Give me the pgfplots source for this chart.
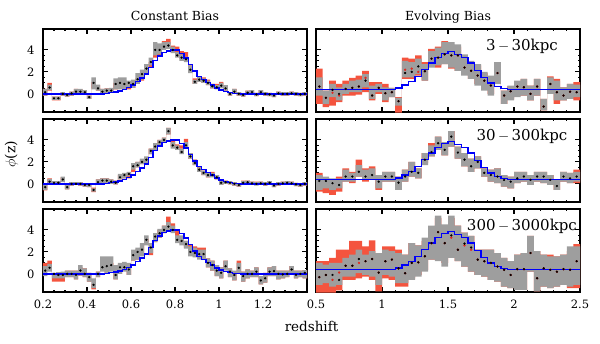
\documentclass[border=0pt]{standalone}
\usepackage{pgfplots}
\pgfplotsset{compat=1.18}
\usepackage{pgfplotstable}
\usepgfplotslibrary{groupplots,fillbetween}
\usepackage{fontspec}
\setmainfont{DejaVu Serif}
\definecolor{cGray}{RGB}{158,158,158}
\definecolor{cRed}{RGB}{244,84,62}
\definecolor{cRdot}{RGB}{225,40,30}
\definecolor{cBlue}{RGB}{0,0,250}

\pgfplotstableread{
x m
0.20 0
0.22 0
0.24 0
0.26 0
0.28 0
0.30 0
0.32 0
0.34 0
0.36 0
0.38 0
0.40 0
0.42 0
0.44 0
0.46 0
0.48 0.05
0.50 0.1
0.52 0.18
0.54 0.27
0.56 0.4
0.58 0.6
0.60 0.8
0.62 1.1
0.64 1.45
0.66 1.8
0.68 2.4
0.70 3.05
0.72 3.45
0.74 3.75
0.76 3.9
0.78 4.0
0.80 4.0
0.82 3.65
0.84 3.25
0.86 2.65
0.88 2.1
0.90 1.6
0.92 1.3
0.94 1.05
0.96 0.8
0.98 0.55
1.00 0.35
1.02 0.2
1.04 0.12
1.06 0.06
1.08 0.03
1.10 0
1.12 0
1.14 0
1.16 0
1.18 0
1.20 0
1.22 0
1.24 0
1.26 0
1.28 0
1.30 0
1.32 0
1.34 0
1.36 0
1.38 0
1.40 0
}\mL

\pgfplotstableread{
x m
0.50 0.4
0.55 0.4
0.60 0.4
0.65 0.4
0.70 0.4
0.75 0.4
0.80 0.4
0.85 0.4
0.90 0.4
0.95 0.4
1.00 0.4
1.05 0.4
1.10 0.55
1.15 0.8
1.20 1.15
1.25 1.6
1.30 2.2
1.35 2.8
1.40 3.3
1.45 3.65
1.50 3.85
1.55 3.6
1.60 3.3
1.65 2.8
1.70 2.15
1.75 1.5
1.80 1.0
1.85 0.65
1.90 0.5
1.95 0.4
2.00 0.4
2.05 0.4
2.10 0.4
2.15 0.4
2.20 0.4
2.25 0.4
2.30 0.4
2.35 0.4
2.40 0.4
2.45 0.4
2.50 0.4
}\mR

\pgfplotstableread{
x glo ghi rlo rhi d
0.20 -0.15 0.45 -0.15 0.45 0.15
0.22 0.35 0.85 0.3 1.0 0.58
0.24 -0.55 -0.25 -0.6 -0.25 -0.4
0.26 -0.55 -0.25 -0.6 -0.25 -0.4
0.28 -0.15 0.15 -0.15 0.15 0.0
0.30 -0.25 0.05 -0.25 0.05 -0.1
0.32 -0.15 0.2 -0.15 0.2 0.05
0.34 0.0 0.45 0.0 0.45 0.2
0.36 0.0 0.45 0.0 0.4 0.2
0.38 -0.05 0.35 -0.05 0.35 0.15
0.40 -0.45 -0.15 -0.45 -0.15 -0.3
0.42 0.4 1.5 0.5 1.1 1.0
0.44 0.3 0.85 0.3 0.8 0.5
0.46 0.0 0.45 0.0 0.45 0.2
0.48 0.1 0.5 0.1 0.5 0.3
0.50 0.1 0.55 0.1 0.5 0.3
0.52 0.4 1.4 0.4 1.0 0.9
0.54 0.4 1.5 0.45 1.1 1.0
0.56 0.4 1.5 0.4 1.0 0.9
0.58 0.6 1.2 0.4 0.9 1.0
0.60 0.55 1.3 0.55 1.0 0.9
0.62 0.9 1.9 0.9 1.4 1.33
0.64 1.3 2.2 1.2 1.8 1.8
0.66 1.9 2.7 1.9 2.3 2.3
0.68 2.6 3.3 2.4 2.9 2.9
0.70 3.5 4.7 3.3 3.8 4.0
0.72 3.6 4.6 3.4 3.9 4.0
0.74 4.0 4.7 4.1 4.8 4.3
0.76 4.1 4.7 4.5 5.0 4.4
0.78 3.7 4.3 3.8 4.4 4.0
0.80 3.3 3.8 3.6 4.3 3.5
0.82 3.0 3.6 3.2 3.9 3.3
0.84 2.9 3.4 3.0 3.8 3.15
0.86 1.9 2.6 2.1 2.6 2.2
0.88 0.9 1.3 0.9 1.4 1.1
0.90 1.1 1.6 1.1 1.6 1.3
0.92 1.0 1.4 1.0 1.5 1.2
0.94 0.8 1.2 0.8 1.3 1.0
0.96 0.5 0.9 0.5 0.9 0.7
0.98 0.4 0.8 0.5 0.9 0.6
1.00 0.5 1.0 0.6 1.1 0.75
1.02 0.3 0.8 0.3 0.8 0.5
1.04 -0.15 0.15 -0.15 0.15 0.0
1.06 0.0 0.45 0.1 0.45 0.2
1.08 -0.15 0.15 -0.15 0.15 0.0
1.10 -0.25 0.05 -0.25 0.05 -0.1
1.12 -0.05 0.3 -0.05 0.3 0.1
1.14 0.0 0.35 0.0 0.35 0.15
1.16 -0.2 0.1 -0.2 0.1 -0.05
1.18 0.0 0.35 0.0 0.35 0.15
1.20 -0.15 0.15 -0.15 0.15 0.0
1.22 -0.2 0.1 -0.2 0.1 -0.05
1.24 -0.3 0.0 -0.3 0.0 -0.15
1.26 -0.1 0.2 -0.1 0.2 0.05
1.28 -0.15 0.15 -0.15 0.15 0.0
1.30 -0.15 0.15 -0.15 0.15 0.0
1.32 -0.1 0.2 -0.1 0.2 0.05
1.34 -0.15 0.15 -0.15 0.15 0.0
1.36 -0.2 0.1 -0.2 0.1 -0.05
1.38 -0.15 0.15 -0.15 0.15 0.0
1.40 -0.15 0.15 -0.15 0.15 nan
}\tA

\pgfplotstableread{
x glo ghi rlo rhi d
0.20 -0.55 0.0 -0.6 -0.1 -0.3
0.22 0.0 0.45 0.1 0.5 0.2
0.24 -0.05 0.25 -0.05 0.25 0.1
0.26 -0.05 0.25 -0.05 0.25 0.1
0.28 0.15 0.65 0.2 0.6 0.4
0.30 -0.5 0.0 -0.5 0.0 -0.3
0.32 -0.15 0.15 -0.15 0.15 0.0
0.34 -0.1 0.15 -0.1 0.15 0.0
0.36 -0.15 0.15 -0.15 0.15 0.0
0.38 -0.25 0.05 -0.25 0.05 -0.1
0.40 -0.3 0.05 -0.3 0.05 -0.1
0.42 -0.7 -0.4 -0.75 -0.35 -0.55
0.44 0.0 0.4 0.0 0.4 0.15
0.46 0.1 0.5 0.1 0.5 0.3
0.48 0.1 0.5 0.1 0.5 0.3
0.50 0.0 0.4 0.0 0.4 0.2
0.52 -0.05 0.3 -0.05 0.3 0.1
0.54 0.4 0.9 0.4 0.8 0.6
0.56 0.5 1.0 0.5 0.9 0.8
0.58 0.7 1.1 0.5 0.8 0.9
0.60 1.3 1.9 1.1 1.4 1.6
0.62 1.5 2.0 1.5 2.0 1.7
0.64 1.8 2.3 1.8 2.2 2.0
0.66 1.9 2.5 1.8 2.1 2.2
0.68 2.7 3.2 2.7 3.2 3.0
0.70 3.1 3.7 3.1 3.6 3.4
0.72 3.5 4.0 3.5 4.0 3.8
0.74 3.8 4.2 3.8 4.2 4.0
0.76 4.5 5.1 4.5 5.1 4.8
0.78 3.2 3.8 3.4 4.0 3.5
0.80 3.1 3.5 3.3 3.6 3.3
0.82 2.7 3.2 3.2 3.5 2.9
0.84 3.3 3.8 3.7 4.1 3.5
0.86 2.3 2.8 2.3 2.8 2.5
0.88 1.7 2.2 1.7 2.2 1.9
0.90 1.1 1.5 1.3 1.6 1.3
0.92 0.8 1.2 0.8 1.2 1.0
0.94 0.6 1.0 0.6 1.0 0.8
0.96 0.6 1.0 0.7 1.1 0.8
0.98 0.4 0.8 0.4 0.8 0.6
1.00 -0.1 0.3 -0.1 0.3 0.1
1.02 0.0 0.3 0.0 0.3 0.15
1.04 -0.05 0.25 -0.05 0.25 0.1
1.06 -0.15 0.15 -0.15 0.15 0.0
1.08 -0.25 0.05 -0.25 0.05 -0.1
1.10 -0.05 0.25 -0.05 0.3 0.1
1.12 0.0 0.3 0.0 0.3 0.15
1.14 -0.1 0.2 -0.1 0.2 0.05
1.16 -0.15 0.15 -0.1 0.2 0.0
1.18 -0.1 0.2 -0.1 0.2 0.05
1.20 -0.15 0.15 -0.15 0.15 0.0
1.22 -0.05 0.25 -0.05 0.25 0.1
1.24 -0.3 0.0 -0.3 0.0 -0.15
1.26 -0.15 0.15 -0.15 0.15 0.0
1.28 -0.1 0.2 -0.1 0.2 0.05
1.30 -0.05 0.25 -0.05 0.25 0.1
1.32 -0.1 0.2 -0.1 0.2 0.05
1.34 -0.2 0.1 -0.2 0.1 -0.05
1.36 -0.25 0.05 -0.25 0.05 -0.1
1.38 -0.15 0.15 -0.15 0.15 0.0
1.40 -0.15 0.15 -0.15 0.15 nan
}\tB

\pgfplotstableread{
x glo ghi rlo rhi d
0.20 -0.2 0.7 0.3 1.0 0.3
0.22 0.2 0.9 0.5 1.2 0.55
0.24 -0.4 0.1 -0.7 0.0 0.0
0.26 -0.4 0.15 -0.7 0.0 -0.1
0.28 -0.4 0.2 -0.7 0.1 -0.1
0.30 -0.3 0.3 -0.3 0.3 0.0
0.32 -0.3 0.3 -0.3 0.3 0.0
0.34 -0.5 0.3 -0.5 0.3 -0.1
0.36 -0.15 0.8 -0.15 0.6 0.3
0.38 -0.3 0.5 -0.3 0.5 0.0
0.40 -0.7 0.1 -0.7 0.1 -0.3
0.42 -1.3 -0.4 -1.4 -0.9 -1.0
0.44 -0.3 0.2 -0.3 0.2 0.0
0.46 0.2 1.6 0.4 0.9 0.6
0.48 0.0 1.6 0.0 1.0 0.7
0.50 0.2 1.6 0.6 1.0 0.8
0.52 -0.5 0.8 -0.5 0.6 -0.1
0.54 0.0 1.0 0.0 0.9 0.6
0.56 0.2 1.1 0.5 0.9 0.6
0.58 -0.1 1.0 -0.1 0.8 0.4
0.60 1.2 2.2 1.2 2.0 1.7
0.62 1.3 2.4 1.3 2.2 2.0
0.64 1.6 2.8 1.8 2.3 2.2
0.66 2.6 3.5 2.9 3.2 3.1
0.68 1.9 2.8 1.7 2.2 2.4
0.70 2.9 3.7 2.9 3.7 3.4
0.72 3.3 4.1 3.3 4.0 3.7
0.74 3.7 4.4 3.7 4.4 4.0
0.76 3.9 4.7 4.4 5.2 4.3
0.78 3.7 4.4 3.8 4.6 4.0
0.80 2.8 3.5 3.0 3.9 3.1
0.82 2.6 3.5 2.8 3.4 3.0
0.84 2.3 3.0 2.4 3.0 2.7
0.86 1.6 2.5 1.9 2.7 2.0
0.88 1.5 2.4 1.7 2.5 1.9
0.90 1.3 2.2 1.6 2.4 1.8
0.92 1.3 2.2 1.7 2.4 1.8
0.94 0.6 1.4 0.6 1.4 1.0
0.96 0.3 1.2 0.3 1.2 0.8
0.98 -0.2 0.8 -0.2 0.8 0.3
1.00 -0.4 0.6 -0.4 0.6 0.1
1.02 0.3 1.2 0.4 1.2 0.7
1.04 -0.3 0.5 -0.3 0.5 0.2
1.06 -0.6 0.3 -0.6 0.1 -0.1
1.08 0.0 1.0 0.3 1.2 0.55
1.10 -0.7 0.2 -0.7 0.2 -0.2
1.12 -0.4 0.4 -0.4 0.4 0.0
1.14 -0.3 0.3 -0.3 0.3 0.0
1.16 -0.3 0.6 -0.3 0.6 0.2
1.18 -0.95 -0.2 -0.95 -0.2 -0.6
1.20 -0.8 0.1 -0.8 0.1 -0.4
1.22 -0.2 0.6 -0.2 0.6 0.2
1.24 -0.2 0.7 -0.2 0.7 0.25
1.26 -0.5 0.3 -0.5 0.3 0.0
1.28 -0.4 0.3 -0.4 0.3 -0.05
1.30 -0.3 0.3 -0.3 0.3 0.0
1.32 -0.1 0.7 -0.1 0.7 0.4
1.34 -0.4 0.3 -0.4 0.3 -0.1
1.36 -0.3 0.3 -0.3 0.3 0.0
1.38 -0.4 0.35 -0.4 0.35 0.1
1.40 -0.4 0.35 -0.4 0.35 nan
}\tC

\pgfplotstableread{
x glo ghi rlo rhi d rd
0.50 -0.15 1.5 -0.9 2.3 0.67 0.67
0.55 -0.9 0.3 -1.2 0.3 -0.36 -0.36
0.60 -0.3 0.9 -1.06 1.2 0.36 0.1
0.65 -0.6 0.6 -0.75 0.9 0.0 -0.15
0.70 0.0 0.9 -0.15 1.2 0.45 0.45
0.75 0.15 1.2 -0.15 1.45 0.55 0.55
0.80 0.15 1.3 -0.06 1.67 0.67 0.67
0.85 0.6 1.8 0.15 2.1 1.2 1.45
0.90 -0.45 0.75 -0.6 1.06 -0.15 -0.15
0.95 0.15 0.9 0.0 1.06 0.55 0.55
1.00 -0.6 0.6 -0.75 0.9 0.06 0.06
1.05 -0.3 0.55 -0.3 0.55 0.15 0.15
1.10 -1.06 -0.36 -1.7 -0.3 -0.67 -0.67
1.15 1.5 3.0 1.36 3.3 1.9 2.2
1.20 1.5 2.9 1.36 3.2 2.0 2.3
1.25 1.8 3.2 1.67 3.5 2.5 2.0
1.30 1.2 2.7 1.2 2.9 2.06 2.06
1.35 2.4 3.9 2.6 4.1 3.2 3.2
1.40 2.6 4.2 2.4 4.3 3.3 3.3
1.45 2.7 4.7 2.7 4.8 3.6 3.6
1.50 2.4 4.7 2.3 4.4 3.5 3.5
1.55 2.1 4.5 2.1 4.3 3.5 3.5
1.60 1.67 3.6 1.8 3.2 2.4 2.4
1.65 1.36 3.0 1.36 2.6 2.1 2.1
1.70 0.75 2.7 0.9 2.6 1.67 1.67
1.75 0.3 2.0 0.4 1.9 1.2 1.2
1.80 -0.15 1.67 0.0 1.5 0.76 0.76
1.85 0.9 2.9 1.2 2.9 1.9 1.9
1.90 -0.9 0.3 -0.9 0.3 -0.15 -0.15
1.95 -0.6 0.75 -0.5 0.7 0.24 0.24
2.00 -0.3 1.2 -0.2 1.1 0.67 0.67
2.05 -0.15 1.36 -0.15 1.36 0.6 0.6
2.10 -0.6 0.75 -0.6 0.75 0.0 0.0
2.15 -0.15 1.36 -0.15 1.36 0.67 0.67
2.20 -1.5 -0.45 -1.5 -0.45 -1.15 -1.15
2.25 0.0 1.5 0.0 1.6 0.9 0.9
2.30 -0.6 1.2 -0.9 1.36 0.15 0.15
2.35 -0.6 0.6 -0.6 0.6 -0.15 -0.15
2.40 -0.45 0.9 -0.45 0.9 0.2 0.2
2.45 -0.3 0.85 -0.6 1.06 0.15 0.15
2.50 -0.3 0.85 -0.6 1.06 nan nan
}\tD

\pgfplotstableread{
x glo ghi rlo rhi d rd
0.50 -0.55 0.8 -0.7 1.0 0.27 0.27
0.55 -0.4 0.67 -0.85 0.5 0.27 0.0
0.60 -0.55 0.5 -1.0 0.2 0.06 -0.3
0.65 -0.4 0.5 -0.7 0.67 -0.1 -0.1
0.70 0.2 1.3 0.2 1.4 0.67 0.67
0.75 0.2 1.0 0.06 1.1 0.67 0.67
0.80 0.67 1.7 0.67 2.2 1.1 1.4
0.85 0.36 1.3 0.2 1.4 0.67 0.67
0.90 0.36 1.4 0.36 1.6 0.8 0.8
0.95 -0.4 0.8 -0.55 0.8 0.2 0.2
1.00 0.2 1.1 0.2 1.1 0.67 0.67
1.05 0.2 1.1 0.2 1.1 0.67 0.67
1.10 -0.55 0.67 -0.55 0.67 0.12 0.12
1.15 0.2 1.3 0.2 1.3 0.67 0.67
1.20 0.67 2.0 0.67 2.0 1.1 1.1
1.25 0.5 1.4 0.5 1.4 1.0 1.0
1.30 1.7 2.8 1.9 2.8 2.2 2.2
1.35 2.5 3.5 2.5 3.7 2.9 2.9
1.40 3.1 4.3 3.1 4.3 3.7 3.7
1.45 2.6 3.8 2.6 3.8 3.1 3.1
1.50 3.4 4.8 3.4 4.8 4.3 4.3
1.55 2.3 3.4 2.3 3.4 2.85 2.85
1.60 1.6 2.8 1.6 2.8 2.2 2.2
1.65 1.1 2.3 1.1 2.3 1.6 1.6
1.70 1.4 2.5 1.4 2.5 2.0 2.0
1.75 0.67 1.4 0.67 1.4 1.0 1.0
1.80 0.2 1.3 0.2 1.3 0.8 0.8
1.85 0.06 1.4 0.06 1.4 0.67 0.67
1.90 -0.25 0.8 -0.25 0.8 0.36 0.36
1.95 -0.4 0.67 -0.4 0.67 0.2 0.2
2.00 0.06 1.1 0.06 1.1 0.5 0.5
2.05 0.2 1.1 0.2 1.1 0.67 0.67
2.10 -0.1 0.8 -0.1 0.8 0.36 0.36
2.15 0.2 1.1 0.2 1.1 0.67 0.67
2.20 0.06 1.1 0.06 1.1 0.67 0.67
2.25 -0.1 0.8 -0.1 0.8 0.36 0.36
2.30 -0.55 0.36 -0.55 0.2 -0.2 -0.2
2.35 0.2 1.1 0.2 1.1 0.67 0.67
2.40 0.06 1.0 0.06 1.0 0.5 0.5
2.45 0.2 1.1 0.06 1.3 0.67 0.67
2.50 0.2 1.1 0.06 1.3 nan nan
}\tE

\pgfplotstableread{
x glo ghi rlo rhi d rd
0.50 -1.0 1.0 -1.7 1.15 -0.3 -0.3
0.55 -0.85 0.85 -1.7 1.15 -0.1 -0.1
0.60 -1.15 1.0 -1.7 1.45 -0.1 -0.55
0.65 -1.0 1.0 -1.5 2.2 -0.55 0.12
0.70 -0.25 1.45 -0.55 2.2 0.74 0.74
0.75 -0.25 1.75 -0.55 3.0 0.74 0.74
0.80 0.06 2.2 -0.4 3.0 1.35 1.0
0.85 -0.1 1.75 -0.25 2.5 1.15 1.15
0.90 -0.25 2.06 -0.55 3.05 1.35 1.35
0.95 -1.0 1.9 -1.6 1.75 0.12 0.12
1.00 -0.1 2.2 -0.4 2.5 1.15 1.15
1.05 -0.25 2.06 -0.55 2.5 1.3 1.3
1.10 -0.85 1.9 -1.15 2.2 0.5 0.5
1.15 -0.85 1.75 -1.15 1.75 0.06 0.06
1.20 -0.55 2.8 -0.4 2.8 1.0 1.0
1.25 -0.25 2.6 -0.1 2.6 1.05 1.05
1.30 0.2 3.3 0.36 3.0 1.6 1.6
1.35 1.3 4.4 1.3 4.1 2.8 2.8
1.40 1.15 5.3 1.3 5.1 3.8 3.8
1.45 0.67 4.5 1.0 4.3 2.8 2.8
1.50 1.45 5.3 1.45 5.1 3.5 3.3
1.55 1.15 4.4 1.15 4.4 2.2 2.2
1.60 0.67 3.75 0.67 3.75 2.75 2.6
1.65 0.2 3.45 0.2 3.45 2.4 2.2
1.70 -0.1 2.2 -0.1 2.2 1.3 1.3
1.75 -0.25 2.2 -0.25 2.2 1.15 1.15
1.80 -0.55 2.2 -0.55 2.2 1.0 1.0
1.85 -0.7 1.9 -0.7 1.9 0.67 0.67
1.90 -1.15 1.45 -1.15 1.45 0.37 0.37
1.95 -1.3 1.15 -1.3 1.15 -0.1 -0.1
2.00 -1.45 1.75 -1.45 1.75 0.43 0.43
2.05 -1.45 1.9 -1.45 1.9 0.43 0.43
2.10 0.2 3.45 0.2 3.45 1.9 1.9
2.15 -1.6 2.06 -1.6 2.06 -0.4 -0.4
2.20 -1.15 1.75 -1.15 1.75 0.5 0.5
2.25 -1.3 1.6 -1.3 1.75 0.37 0.37
2.30 -1.15 1.6 -1.15 1.6 0.2 0.2
2.35 -1.0 1.75 -1.0 1.75 0.43 0.43
2.40 -1.15 2.5 -1.3 2.06 0.37 0.37
2.45 -1.0 2.5 -1.3 2.7 1.15 1.15
2.50 -1.0 2.5 -1.3 2.7 nan nan
}\tF

\newcommand{\bands}[2]{%
  \addplot[name path=rh#2, draw=none, const plot] table[x=x,y=rhi]{#1};
  \addplot[name path=rl#2, draw=none, const plot] table[x=x,y=rlo]{#1};
  \addplot[fill=cRed, draw=none] fill between[of=rh#2 and rl#2];
  \addplot[name path=gh#2, draw=none, const plot] table[x=x,y=ghi]{#1};
  \addplot[name path=gl#2, draw=none, const plot] table[x=x,y=glo]{#1};
  \addplot[fill=cGray, draw=none] fill between[of=gh#2 and gl#2];
}
\newcommand{\model}[1]{%
  \addplot[color=cBlue, line width=1.4pt, const plot] table[x=x,y=m]{#1};
}
\newcommand{\bdots}[2]{%
  \addplot[only marks, mark=*, mark size=1pt, color=black, line width=0.3pt] table[x expr=\thisrow{x}+#2, y=d]{#1};
}
\newcommand{\rdots}[2]{%
  \addplot[only marks, mark=*, mark size=1pt, color=cRdot, line width=0.3pt] table[x expr=\thisrow{x}+#2, y=rd]{#1};
}

\begin{document}
\begin{tikzpicture}
\begin{groupplot}[
  group style={group size=2 by 3, horizontal sep=9pt, vertical sep=6.5pt},
  width=264pt, height=83.5pt, scale only axis,
  ymin=-1.65, ymax=5.95, ytick={0,2,4}, minor y tick num=3,
  tick align=inside, xtick pos=both, ytick pos=both,
  major tick length=5pt, minor tick length=2.5pt,
  every tick/.style={black, line width=1.1pt},
  separate axis lines,
  axis line style={black, line width=2pt, line cap=rect},
  tick label style={font=\fontsize{11.5}{13}\selectfont},
  xticklabel style={yshift=-4pt},
  yticklabel style={xshift=-5pt},
  /pgf/number format/assume math mode=true,
  clip=true,
]
% row 1
\nextgroupplot[xmin=0.2, xmax=1.4, xtick={0.2,0.4,0.6,0.8,1.0,1.2,1.4}, minor x tick num=3, xticklabels={}]
\bands{\tA}{a}
\model{\mL}
\bdots{\tA}{0.01}
\nextgroupplot[xmin=0.5, xmax=2.5, xtick={0.5,1,1.5,2,2.5}, minor x tick num=4, xticklabels={}, yticklabels={}]
\bands{\tD}{d}
\model{\mR}
\rdots{\tD}{0.025}
\bdots{\tD}{0.025}
\node[anchor=base, font=\fontsize{15}{17}\selectfont] at (rel axis cs:0.78,0.737) {3$\,-\,$30kpc};
% row 2
\nextgroupplot[xmin=0.2, xmax=1.4, xtick={0.2,0.4,0.6,0.8,1.0,1.2,1.4}, minor x tick num=3, xticklabels={}]
\bands{\tB}{b}
\model{\mL}
\bdots{\tB}{0.01}
\nextgroupplot[xmin=0.5, xmax=2.5, xtick={0.5,1,1.5,2,2.5}, minor x tick num=4, xticklabels={}, yticklabels={}]
\bands{\tE}{e}
\model{\mR}
\bdots{\tE}{0.025}
\node[anchor=base, font=\fontsize{15}{17}\selectfont] at (rel axis cs:0.78,0.737) {30$\,-\,$300kpc};
% row 3
\nextgroupplot[xmin=0.2, xmax=1.4, xtick={0.2,0.4,0.6,0.8,1.0,1.2,1.4}, minor x tick num=3, xticklabels={0.2,0.4,0.6,0.8,1,1.2,{}}]
\bands{\tC}{c}
\model{\mL}
\bdots{\tC}{0.01}
\nextgroupplot[xmin=0.5, xmax=2.5, xtick={0.5,1,1.5,2,2.5}, minor x tick num=4, xticklabels={0.5,1,1.5,2,2.5}, yticklabels={}]
\bands{\tF}{f}
\model{\mR}
\rdots{\tF}{0.025}
\bdots{\tF}{0.025}
\node[anchor=base, font=\fontsize{15}{17}\selectfont] at (rel axis cs:0.78,0.737) {300$\,-\,$3000kpc};
\end{groupplot}
\node[anchor=base, font=\fontsize{12.5}{14}\selectfont] at ([yshift=8pt]group c1r1.north) {Constant Bias};
\node[anchor=base, font=\fontsize{12.5}{14}\selectfont] at ([yshift=8pt]group c2r1.north) {Evolving Bias};
\node[anchor=base, font=\fontsize{13.5}{15}\selectfont] at ([xshift=4.5pt,yshift=-39pt]group c1r3.south east) {redshift};
\node[rotate=90, font=\fontsize{14}{16}\selectfont] at ([xshift=-31.5pt,yshift=6pt]group c1r2.west) {$\phi$(z)};
\pgfresetboundingbox
\path[use as bounding box] ([xshift=-43pt,yshift=-51pt]group c1r3.south west) rectangle ++(600pt,343pt);
\end{tikzpicture}
\end{document}
